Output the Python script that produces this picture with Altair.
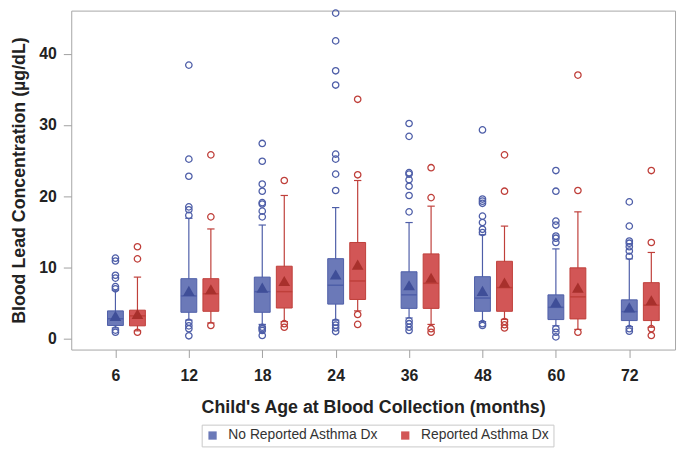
import altair as alt
import pandas as pd

# ---------------- data ----------------
ages = [6, 12, 18, 24, 36, 48, 60, 72]
groups = ["No Reported Asthma Dx", "Reported Asthma Dx"]

# No reported asthma
q1_no = [1.85, 3.70, 3.70, 4.85, 4.25, 3.84, 2.68, 2.54]
med_no = [2.8, 6.0, 6.6, 7.5, 6.15, 5.7, 4.4, 3.8]
q3_no = [3.9, 8.42, 8.64, 11.23, 9.39, 8.7, 6.15, 5.45]
lo_no = [1.5, 2.6, 2.0, 2.6, 2.9, 2.4, 1.8, 1.7]
hi_no = [6.8, 16.9, 15.95, 18.4, 16.3, 14.6, 12.6, 11.2]
mean_no = [3.2, 6.7, 7.17, 9.0, 7.5, 6.7, 5.09, 4.4]

# Reported asthma
q1_yes = [1.8, 3.84, 4.3, 5.5, 4.25, 3.84, 2.77, 2.54]
med_yes = [3.2, 6.3, 6.6, 8.1, 7.77, 7.17, 5.87, 4.7]
q3_yes = [4.0, 8.42, 10.17, 13.5, 11.9, 10.86, 9.94, 7.86]
lo_yes = [1.1, 2.2, 2.4, 3.9, 2.0, 2.7, 1.3, 1.6]
hi_yes = [8.64, 15.4, 20.1, 22.2, 18.6, 15.8, 17.8, 12.1]
mean_yes = [3.47, 6.93, 8.09, 10.4, 8.55, 7.86, 7.17, 5.4]

out_no = [
    [11.3, 10.9, 8.9, 8.5, 7.3, 7.0, 1.2, 0.9],
    [38.4, 25.2, 22.8, 18.5, 18.1, 17.3, 2.3, 1.8, 1.4, 0.4],
    [27.4, 24.9, 21.7, 20.7, 19.1, 18.9, 17.9, 17.1, 1.6, 1.4, 1.15, 0.45],
    [45.7, 41.8, 37.6, 35.6, 25.9, 25.2, 23.1, 20.8, 2.3, 1.9, 1.5, 1.0],
    [30.2, 28.4, 23.3, 23.1, 22.3, 21.4, 20.1, 17.8, 2.5, 2.1, 1.6, 1.15],
    [29.3, 19.6, 19.3, 19.0, 17.2, 16.3, 15.35, 14.9, 2.1, 1.85],
    [23.6, 20.7, 16.5, 15.95, 14.4, 14.1, 13.5, 1.4, 0.9, 0.25],
    [19.2, 15.8, 13.7, 13.4, 12.9, 12.3, 11.55, 1.4, 1.05],
]
out_yes = [
    [12.9, 11.2, 0.9],
    [25.8, 17.1, 1.85],
    [22.2, 2.1, 1.6],
    [33.6, 23.0, 3.4, 2.0],
    [24.0, 19.8, 1.4, 0.9],
    [25.8, 20.7, 2.4, 1.95, 1.5],
    [37.0, 20.8, 0.9],
    [23.6, 13.5, 1.4, 0.45],
]

# ---------------- tables ----------------
offsets = [0.0, 0.30]
box_half = 0.108
cap_half = 0.05

stats = {
    groups[0]: (q1_no, med_no, q3_no, lo_no, hi_no, mean_no, out_no),
    groups[1]: (q1_yes, med_yes, q3_yes, lo_yes, hi_yes, mean_yes, out_yes),
}

rows, orows = [], []
for gi, g in enumerate(groups):
    q1, med, q3, lo, hi, mn, outs = stats[g]
    for i in range(len(ages)):
        x = i + offsets[gi]
        rows.append(dict(group=g, x=x, xlo=x - box_half, xhi=x + box_half,
                         clo=x - cap_half, chi=x + cap_half,
                         q1=q1[i], med=med[i], q3=q3[i], lo=lo[i], hi=hi[i], mean=mn[i]))
        for v in outs[i]:
            orows.append(dict(group=g, x=x, v=v))
summary = pd.DataFrame(rows)
outliers = pd.DataFrame(orows)

# ---------------- styling ----------------
FONT = "Liberation Sans, Arial, sans-serif"
fill_range = ["#6B79B8", "#D25656"]
stroke_range = ["#4E5EA8", "#BF3F3A"]
mean_range = ["#3F4E98", "#A8302C"]

xscale = alt.Scale(domain=[-0.602, 7.623], nice=False, zero=False)
yscale = alt.Scale(domain=[-1.53, 46.05], nice=False, zero=False)
label_expr = "[" + ",".join(f"'{a}'" for a in ages) + "][datum.value]"
xaxis = alt.Axis(values=list(range(len(ages))), labelExpr=label_expr,
                 title="Child's Age at Blood Collection (months)",
                 labelPadding=10, titleY=64, titleBaseline="alphabetic")
yaxis = alt.Axis(values=[0, 10, 20, 30, 40], title="Blood Lead Concentration (µg/dL)",
                 labelPadding=7, titleX=-47, titleBaseline="alphabetic")

# stroke / fill scales use data-derived domains (sorted: "No..." < "Reported...")
# so their hidden legends are not merged with the colour legend
stroke_enc = alt.Stroke("group:N", scale=alt.Scale(range=stroke_range), legend=None)

base = alt.Chart(summary)

whisk = base.mark_rule(strokeWidth=1.2).encode(
    x=alt.X("x:Q", scale=xscale, axis=xaxis),
    y=alt.Y("lo:Q", scale=yscale, axis=yaxis),
    y2="hi:Q",
    stroke=stroke_enc,
)
cap_hi = base.mark_rule(strokeWidth=1.2).encode(
    x=alt.X("clo:Q", scale=xscale, axis=xaxis), x2="chi:Q",
    y=alt.Y("hi:Q", scale=yscale, axis=yaxis),
    stroke=stroke_enc,
)
cap_lo = base.mark_rule(strokeWidth=1.2).encode(
    x=alt.X("clo:Q", scale=xscale, axis=xaxis), x2="chi:Q",
    y=alt.Y("lo:Q", scale=yscale, axis=yaxis),
    stroke=stroke_enc,
)
box = base.mark_bar(opacity=1).encode(
    x=alt.X("xlo:Q", scale=xscale, axis=xaxis), x2="xhi:Q",
    y=alt.Y("q1:Q", scale=yscale, axis=yaxis), y2="q3:Q",
    color=alt.Color("group:N", scale=alt.Scale(domain=groups, range=fill_range),
                    legend=alt.Legend(orient="none", legendX=132, legendY=419,
                                      direction="horizontal", title=None,
                                      symbolType="square", symbolSize=70,
                                      symbolStrokeWidth=0,
                                      labelFont=FONT, labelFontSize=14, labelColor="#333",
                                      strokeColor="#c8c8c8", fillColor="white",
                                      padding=4, columnPadding=20, labelOffset=9)),
)
box_outline = base.mark_bar(filled=False, strokeWidth=1, opacity=1).encode(
    x=alt.X("xlo:Q", scale=xscale, axis=xaxis), x2="xhi:Q",
    y=alt.Y("q1:Q", scale=yscale, axis=yaxis), y2="q3:Q",
    stroke=stroke_enc,
)
median = base.mark_rule(strokeWidth=1.5).encode(
    x=alt.X("xlo:Q", scale=xscale, axis=xaxis), x2="xhi:Q",
    y=alt.Y("med:Q", scale=yscale, axis=yaxis),
    stroke=stroke_enc,
)
mean = base.mark_point(shape="triangle-up", filled=True, size=140, opacity=1).encode(
    x=alt.X("x:Q", scale=xscale, axis=xaxis),
    y=alt.Y("mean:Q", scale=yscale, axis=yaxis),
    fill=alt.Fill("group:N", scale=alt.Scale(range=mean_range), legend=None),
)
outs = alt.Chart(outliers).mark_point(shape="circle", filled=False, size=42,
                                      strokeWidth=1.3, opacity=1).encode(
    x=alt.X("x:Q", scale=xscale, axis=xaxis),
    y=alt.Y("v:Q", scale=yscale, axis=yaxis),
    stroke=stroke_enc,
)

chart = alt.layer(whisk, cap_hi, cap_lo, box, box_outline, median, mean, outs).properties(
    width=611, height=343,
    autosize=alt.AutoSizeParams(type="none"),
    padding={"left": 64, "top": 0, "right": 2, "bottom": 99},
).configure_view(
    stroke="#a6a6a6", strokeWidth=1
).configure_axis(
    labelFont=FONT, labelFontWeight="bold", labelFontSize=16, labelColor="#222",
    titleFont=FONT, titleFontWeight="bold", titleFontSize=18, titleColor="#222",
    tickColor="#a0a0a0", tickSize=8, domain=False, grid=False,
)

chart.save("out.html", embed_options={"renderer": "svg", "actions": False})
